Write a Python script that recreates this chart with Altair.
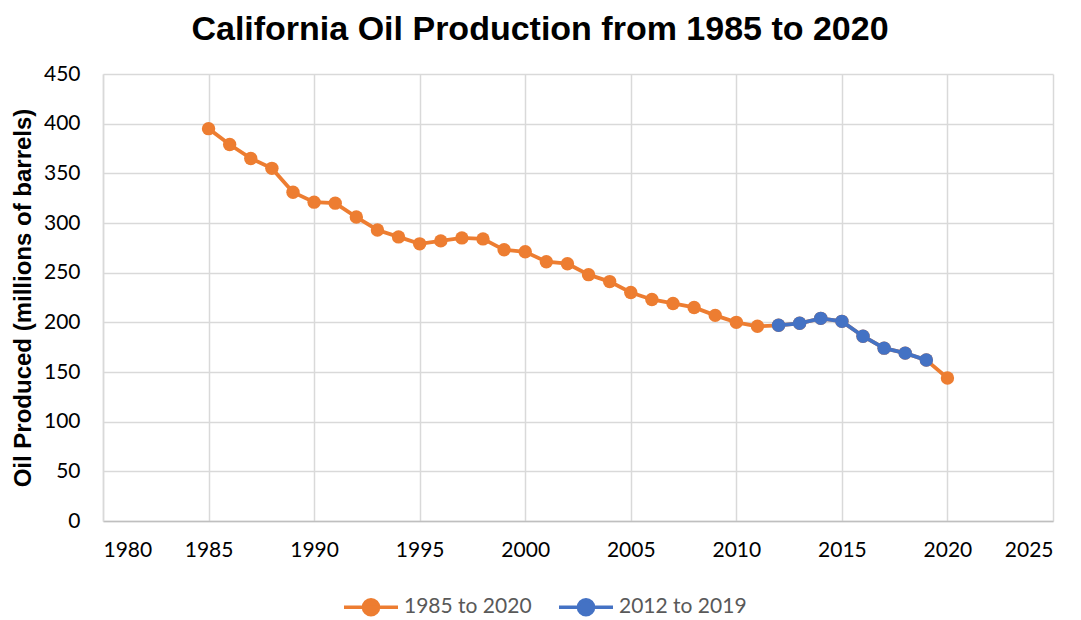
import altair as alt
import pandas as pd

years = list(range(1985, 2021))
production = [395, 379, 365, 355, 331, 321, 320, 306, 293, 286, 279, 282, 285, 284,
              273, 271, 261, 259, 248, 241, 230, 223, 219, 215, 207, 200, 196, 197,
              199, 204, 201, 186, 174, 169, 162, 144]
series_names = ["1985 to 2020", "2012 to 2019"]
series_colors = ["#ED7D31", "#4472C4"]
x_ticks = list(range(1980, 2026, 5))
y_ticks = list(range(0, 451, 50))

rows = []
for yr, v in zip(years, production):
    rows.append({"year": yr, "oil": v, "series": series_names[0]})
for yr, v in zip(years, production):
    if 2012 <= yr <= 2019:
        rows.append({"year": yr, "oil": v, "series": series_names[1]})
df = pd.DataFrame(rows)

color = alt.Color(
    "series:N",
    scale=alt.Scale(domain=series_names, range=series_colors),
    legend=alt.Legend(
        title=None,
        orient="none",
        direction="horizontal",
        legendX=239,
        legendY=504,
        symbolType="M-1,0L1,0M-0.28,0A0.28,0.28,0,1,0,0.28,0A0.28,0.28,0,1,0,-0.28,0Z",
        symbolSize=2916,
        symbolStrokeWidth=3.5,
        labelFont="Lato",
        labelFontSize=21,
        labelColor="#595959",
        labelOffset=4,
        columnPadding=20,
    ),
)

x = alt.X("year:Q", scale=alt.Scale(domain=[1980, 2025], nice=False, zero=False),
          axis=alt.Axis(values=x_ticks, format="d", title=None))
y = alt.Y("oil:Q", scale=alt.Scale(domain=[0, 450], nice=False),
          axis=alt.Axis(values=y_ticks, title="Oil Produced (millions of barrels)"))

layers = []
for name in series_names:
    sub = alt.Chart(df).transform_filter(alt.datum.series == name)
    layers.append(sub.mark_line(strokeWidth=3.8).encode(x=x, y=y, color=color))
    layers.append(sub.mark_point(filled=True, size=180, opacity=1).encode(x=x, y=y, color=color))

chart = alt.layer(*layers).properties(
    width=950,
    height=447,
    autosize=alt.AutoSizeParams(type="none"),
    padding={"left": 95, "top": 66, "right": 20, "bottom": 96},
    title=alt.Title(
        "California Oil Production from 1985 to 2020",
        font="Liberation Sans",
        fontSize=34,
        fontWeight="bold",
        color="#000000",
        anchor="middle",
        dx=-38,
        offset=16,
    ),
).configure_view(stroke=None).configure_axis(
    grid=True,
    gridColor="#D9D9D9",
    gridWidth=1.5,
    domainColor="#D9D9D9",
    domainWidth=1.5,
    ticks=False,
    labelFont="Lato",
    labelFontSize=21,
    labelColor="#000000",
    titleFont="Liberation Sans",
    titleFontSize=24,
    titleFontWeight="bold",
    titleColor="#000000",
).configure_axisX(
    labelPadding=18,
    domainColor="#BFBFBF",
).configure_axisY(
    labelPadding=23,
    titlePadding=8,
)

chart.save("out.html", embed_options={"renderer": "svg", "actions": False})
